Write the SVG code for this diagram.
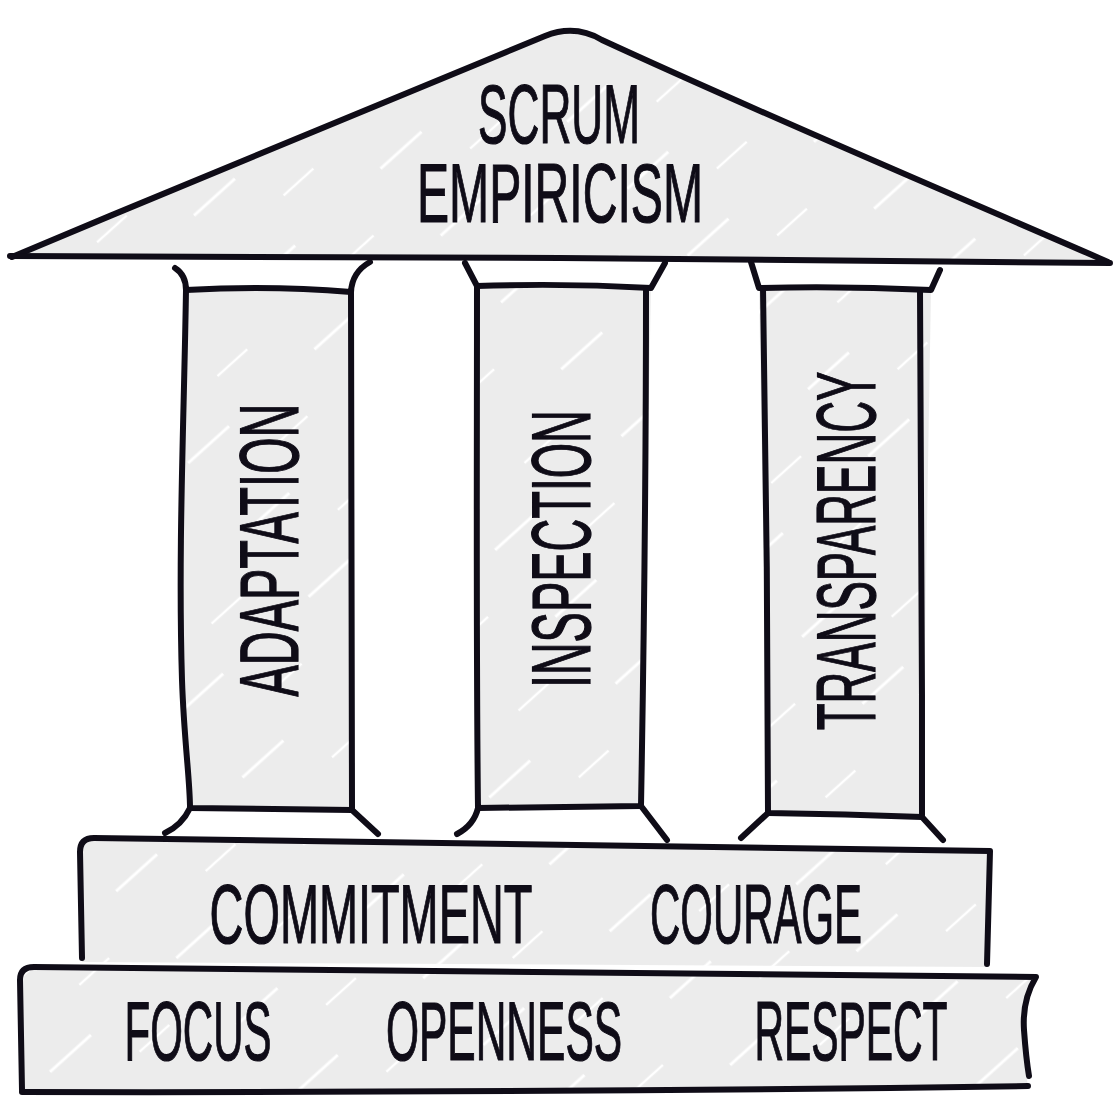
<svg xmlns="http://www.w3.org/2000/svg" width="1113" height="1100" viewBox="0 0 1113 1100">
<defs>
<pattern id="hatch" patternUnits="userSpaceOnUse" width="170" height="90" patternTransform="rotate(-42)">
<rect width="170" height="90" fill="#ececec"/>
<line x1="0" y1="20" x2="170" y2="20" stroke="#ffffff" stroke-width="3" stroke-dasharray="55 115"/>
<line x1="0" y1="65" x2="170" y2="65" stroke="#ffffff" stroke-width="2.5" stroke-dasharray="40 130" stroke-dashoffset="90"/>
</pattern>
</defs>
<style>
.ln{fill:none;stroke:#0f0c17;stroke-width:6;stroke-linecap:round;stroke-linejoin:round}
.fl{fill:url(#hatch);stroke:none}
.t{font-family:"Liberation Sans",Arial,sans-serif;font-size:84px;fill:#0f0c17;stroke:#0f0c17;stroke-width:1.2;text-anchor:middle}
</style>
<rect width="1113" height="1100" fill="#ffffff"/>
<g id="roof">
<path class="fl" d="M12,257 L548,34 Q575,26 600,40 L1108,262 Z"/>
<path class="ln" d="M12,257 C200,178 400,95 545,36 Q575,24 602,40 C780,122 950,193 1108,262"/>
<path class="ln" d="M10,256 L560,258 L1110,263"/>
<text class="t" transform="matrix(0.526,0,0,1,559,143)">SCRUM</text>
<text class="t" transform="matrix(0.573,0,0,1,560,222)">EMPIRICISM</text>
</g>
<g id="col-adaptation">
<path class="fl" d="M186,290 Q270,285 351,292 L352,808 L190,808 Q182,700 180,550 Z"/>
<path class="ln" d="M175,268 Q186,275 186,290 Q270,285 351,292 Q352,272 370,262"/>
<path class="ln" d="M186,290 C184,420 178,550 182,680 C184,740 190,780 190,808 L352,810 L351,292"/>
<path class="ln" d="M190,808 Q182,825 165,833"/>
<path class="ln" d="M352,810 L378,834"/>
<text class="t" transform="matrix(0,-0.559,1,0,298,550)">ADAPTATION</text>
</g>
<g id="col-inspection">
<path class="fl" d="M477,286 Q565,283 651,288 L641,806 L478,808 Z"/>
<path class="ln" d="M465,263 L477,286 Q565,283 651,288 L665,263"/>
<path class="ln" d="M477,286 C477,460 476,640 478,808 L641,806 C644,640 646,460 646,288"/>
<path class="ln" d="M478,808 Q474,825 457,834"/>
<path class="ln" d="M641,806 L667,840"/>
<text class="t" transform="matrix(0,-0.541,1,0,590,549)">INSPECTION</text>
</g>
<g id="col-transparency">
<path class="fl" d="M759,288 Q845,286 931,290 L922,816 L768,813 Z"/>
<path class="ln" d="M751,262 L759,288 Q845,286 931,290 L940,270"/>
<path class="ln" d="M763,288 C766,460 768,640 768,813 Q845,814 922,817 C922,640 922,460 920,290"/>
<path class="ln" d="M768,813 L741,838"/>
<path class="ln" d="M922,817 L943,840"/>
<text class="t" transform="matrix(0,-0.524,1,0,875,551)">TRANSPARENCY</text>
</g>
<g id="step-upper">
<path class="fl" d="M92,838 Q540,846 990,851 L987,967 L82,962 L80,850 Z"/>
<path class="ln" d="M82,958 L80,852 Q80,838 94,838 Q540,846 990,851 L987,964"/>
<text class="t" transform="matrix(0.558,0,0,1,371,943)">COMMITMENT</text>
<text class="t" transform="matrix(0.499,0,0,1,756,943)">COURAGE</text>
</g>
<g id="step-lower">
<path class="fl" d="M32,967 Q530,970 1036,976 Q1018,1020 1028,1087 L22,1091 L20,980 Z"/>
<path class="ln" d="M22,1090 L20,980 Q20,967 34,967 Q530,970 1036,977 Q1022,1000 1024,1030 Q1026,1058 1029,1076"/>
<path class="ln" d="M22,1092 Q530,1093 1028,1086"/>
<text class="t" transform="matrix(0.5,0,0,1,198,1060)">FOCUS</text>
<text class="t" transform="matrix(0.506,0,0,1,504,1060)">OPENNESS</text>
<text class="t" transform="matrix(0.487,0,0,1,851,1060)">RESPECT</text>
</g>
</svg>
